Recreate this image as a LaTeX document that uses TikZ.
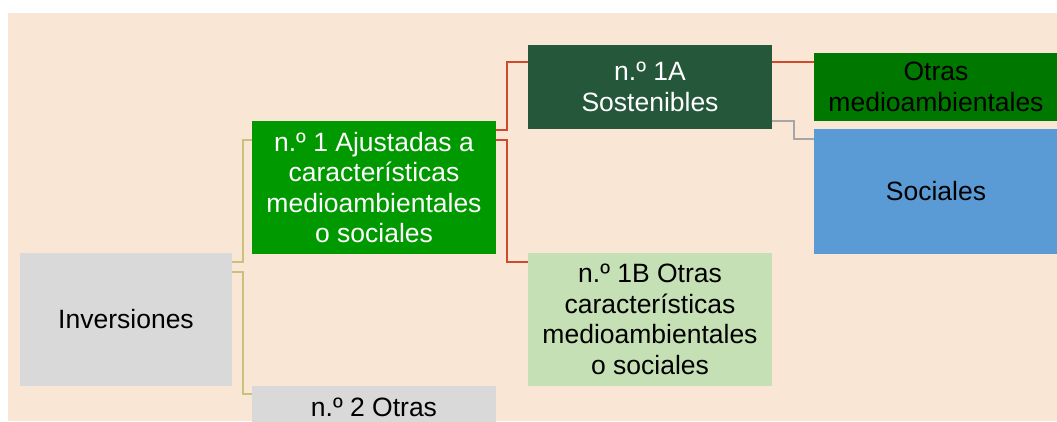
\documentclass[tikz,border=0pt]{standalone}
\usepackage{fontspec}
\setmainfont{Liberation Sans}
\definecolor{peach}{HTML}{FAE6D4}
\definecolor{cgray}{HTML}{D9D9D9}
\definecolor{cgreen}{HTML}{009900}
\definecolor{cdark}{HTML}{25573A}
\definecolor{clight}{HTML}{C5E0B4}
\definecolor{cotras}{HTML}{007800}
\definecolor{cblue}{HTML}{5B9BD5}
\definecolor{lyellow}{HTML}{C9C27C}
\definecolor{lred}{HTML}{CC4B2C}
\definecolor{lgray}{HTML}{A6A6A6}
\tikzset{
  boxbase/.style={rectangle, inner sep=0pt, align=center,
    font=\fontsize{26.5}{30.5}\selectfont},
  grayb/.style={boxbase, fill=cgray, text=black},
  greenb/.style={boxbase, fill=cgreen, text=white},
  darkb/.style={boxbase, fill=cdark, text=white},
  lightb/.style={boxbase, fill=clight, text=black},
  otrasb/.style={boxbase, fill=cotras, text=black},
  blueb/.style={boxbase, fill=cblue, text=black},
  conn/.style={line width=1.6pt},
  yline/.style={conn, draw=lyellow},
  rline/.style={conn, draw=lred},
  gline/.style={conn, draw=lgray},
}
\begin{document}
\begin{tikzpicture}[x=1pt, y=-1pt]
\useasboundingbox (0,0) rectangle (1057,421);
\clip (0,0) rectangle (1057,421);
\fill[white] (0,0) rectangle (1057,421);
\fill[peach] (8,13) rectangle (1060,421);

\node[grayb, minimum width=212pt, minimum height=133pt] (inv) at (126,319.5) {Inversiones};
\node[greenb, minimum width=244pt, minimum height=133pt] (n1) at (374,187.5)
  {n.º 1 Ajustadas a\\características\\medioambientales\\o sociales};
\node[grayb, minimum width=244pt, minimum height=133pt,
  label={[boxbase, text=black, anchor=base, yshift=-31pt]north:n.º 2 Otras}] (n2) at (374,452.5) {};
\node[darkb, minimum width=244pt, minimum height=84pt] (n1a) at (650,87)
  {n.º 1A\\Sostenibles};
\node[lightb, minimum width=244pt, minimum height=133pt] (n1b) at (650,319.5)
  {n.º 1B Otras\\características\\medioambientales\\o sociales};
\node[otrasb, minimum width=244pt, minimum height=68pt] (otras) at (936,87)
  {Otras\\medioambientales};
\node[blueb, minimum width=244pt, minimum height=125pt] (soc) at (936,191.5)
  {Sociales};

\draw[yline] ([yshift=-9pt]inv.north east) -- ++(11,0) |- ([yshift=-19pt]n1.north west);
\draw[yline] ([yshift=-19pt]inv.north east) -- ++(11,0) |- ([yshift=-8pt]n2.north west);
\draw[rline] ([yshift=-9pt]n1.north east) -- ++(11,0) |- ([yshift=-17pt]n1a.north west);
\draw[rline] ([yshift=-19pt]n1.north east) -- ++(11,0) |- ([yshift=-9pt]n1b.north west);
\draw[rline] ([yshift=-17pt]n1a.north east) -- ([yshift=-9pt]otras.north west);
\draw[gline] ([yshift=8pt]n1a.south east) -- ++(22,0) |- ([yshift=-10pt]soc.north west);
\end{tikzpicture}
\end{document}
